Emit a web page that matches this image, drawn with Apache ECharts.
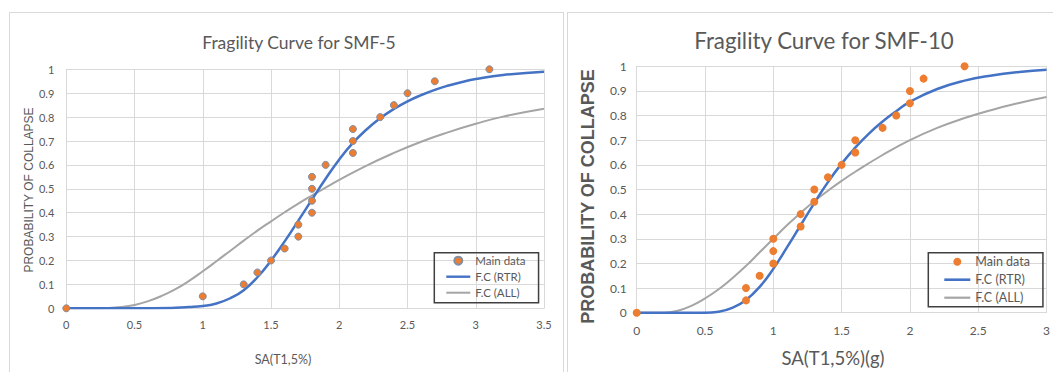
<!DOCTYPE html>
<html><head><meta charset="utf-8">
<script src="https://cdn.jsdelivr.net/npm/echarts@6/dist/echarts.min.js"></script>
<style>
html,body{margin:0;padding:0;background:#fff;width:1053px;height:372px;overflow:hidden;position:relative}
.panel{position:absolute;border:1px solid #d9d9d9;box-sizing:border-box;background:#fff}
#p1{left:9px;top:12px;width:555px;height:380px}
#p2{left:567px;top:12px;width:500px;height:380px}
#c1{position:absolute;left:0;top:0;width:565px;height:372px}
#c2{position:absolute;left:565px;top:0;width:488px;height:372px}
</style></head><body>
<div class="panel" id="p1"></div><div class="panel" id="p2"></div>
<div id="c1"></div><div id="c2"></div>
<script>
// ---------- SMF-5 ----------
const smf5DataX = [0, 1.0, 1.3, 1.4, 1.5, 1.6, 1.7, 1.7, 1.8, 1.8, 1.8, 1.8, 1.9, 2.1, 2.1, 2.1, 2.3, 2.4, 2.5, 2.7, 3.1];
const smf5DataY = [0, 0.05, 0.10, 0.15, 0.20, 0.25, 0.30, 0.35, 0.40, 0.45, 0.50, 0.55, 0.60, 0.65, 0.70, 0.75, 0.80, 0.85, 0.90, 0.95, 1.0];
const smf5RtrX = [0, 0.5, 0.8, 0.9, 1.0, 1.1, 1.2, 1.3, 1.4, 1.5, 1.6, 1.7, 1.8, 1.9, 2.0, 2.1, 2.2, 2.3, 2.4, 2.5, 2.6, 2.7, 2.8, 2.9, 3.0, 3.2, 3.5];
const smf5RtrY = [0, 0, 0.002, 0.005, 0.01, 0.02, 0.042, 0.076, 0.13, 0.2, 0.28, 0.367, 0.455, 0.542, 0.623, 0.692, 0.748, 0.795, 0.834, 0.866, 0.892, 0.914, 0.932, 0.947, 0.959, 0.976, 0.99];
const smf5AllX = [0, 0.2, 0.3, 0.4, 0.5, 0.6, 0.7, 0.8, 0.9, 1.0, 1.1, 1.2, 1.3, 1.4, 1.5, 1.6, 1.7, 1.8, 1.9, 2.0, 2.2, 2.4, 2.6, 2.8, 3.0, 3.2, 3.5];
const smf5AllY = [0, 0, 0.001, 0.005, 0.014, 0.03, 0.052, 0.08, 0.115, 0.155, 0.197, 0.24, 0.283, 0.325, 0.364, 0.402, 0.438, 0.472, 0.505, 0.537, 0.597, 0.65, 0.697, 0.737, 0.772, 0.802, 0.835];

// ---------- SMF-10 ----------
const smf10DataX = [0, 0.8, 0.8, 0.9, 1.0, 1.0, 1.0, 1.2, 1.2, 1.3, 1.3, 1.4, 1.5, 1.6, 1.6, 1.8, 1.9, 2.0, 2.0, 2.1, 2.4];
const smf10DataY = [0, 0.05, 0.10, 0.15, 0.20, 0.25, 0.30, 0.35, 0.40, 0.45, 0.50, 0.55, 0.60, 0.65, 0.70, 0.75, 0.80, 0.85, 0.90, 0.95, 1.0];
const smf10RtrX = [0, 0.5, 0.6, 0.7, 0.8, 0.9, 1.0, 1.1, 1.2, 1.3, 1.4, 1.5, 1.6, 1.7, 1.8, 1.9, 2.0, 2.2, 2.4, 2.6, 2.8, 3.0];
const smf10RtrY = [0, 0, 0.004, 0.02, 0.052, 0.105, 0.178, 0.265, 0.355, 0.445, 0.53, 0.605, 0.67, 0.727, 0.776, 0.818, 0.856, 0.908, 0.942, 0.963, 0.977, 0.986];
const smf10AllX = [0, 0.2, 0.3, 0.4, 0.5, 0.6, 0.7, 0.8, 0.9, 1.0, 1.1, 1.2, 1.3, 1.4, 1.5, 1.6, 1.8, 2.0, 2.2, 2.4, 2.6, 2.8, 3.0];
const smf10AllY = [0, 0, 0.008, 0.028, 0.058, 0.095, 0.14, 0.19, 0.245, 0.3, 0.355, 0.405, 0.452, 0.495, 0.535, 0.572, 0.64, 0.70, 0.75, 0.79, 0.823, 0.851, 0.875];

const legendNames = ['Main data', 'F.C (RTR)', 'F.C (ALL)'];
const titles = ['Fragility Curve for SMF-5', 'Fragility Curve for SMF-10'];
const xNames = ['SA(T1,5%)', 'SA(T1,5%)(g)'];
const yName = 'PROBABILITY OF COLLAPSE';

const zip = (xs, ys) => xs.map((x, i) => [x, ys[i]]);
const CAL = "Lato, 'Open Sans', sans-serif";
const SANS = "'Liberation Sans', Arial, sans-serif";
const TXT = '#595959';
const GRID = '#d9d9d9';

function txt(text, x, y, font, rot) {
  return {
    type: 'text', x: x, y: y, rotation: rot || 0, silent: true,
    style: { text: text, fill: TXT, font: font, align: 'center', verticalAlign: 'middle', textAlign: 'center', textVerticalAlign: 'middle' }
  };
}

function build(cfg) {
  return {
    animation: false,
    graphic: [
      txt(cfg.title, cfg.titleX, cfg.titleY, cfg.titleFont),
      txt(cfg.xName, cfg.xNameX, cfg.xNameY, cfg.xNameFont),
      txt(yName, cfg.yNameX, cfg.yNameY, cfg.yNameFont, Math.PI / 2)
    ],
    grid: { left: cfg.gridLeft, top: cfg.gridTop, width: cfg.gridW, height: cfg.gridH },
    legend: {
      orient: 'vertical', left: cfg.legLeft, top: cfg.legTop,
      padding: cfg.legPad, itemWidth: cfg.legItemW, itemHeight: 8, itemGap: 0,
      borderColor: '#404040', borderWidth: 1.5,
      textStyle: { fontFamily: CAL, fontSize: cfg.legFont, color: TXT, lineHeight: cfg.legLine },
      data: [
        { name: legendNames[0], icon: 'circle' },
        { name: legendNames[1], icon: 'path://M0,0H26V2.6H0Z' },
        { name: legendNames[2], icon: 'path://M0,0H26V2.2H0Z' }
      ]
    },
    xAxis: {
      type: 'value', min: 0, max: cfg.xMax, interval: 0.5,
      axisLine: { show: true, lineStyle: { color: GRID } }, axisTick: { show: false },
      axisLabel: { color: TXT, fontFamily: CAL, fontSize: cfg.tickSize, margin: cfg.xLabMargin },
      splitLine: { show: true, lineStyle: { color: GRID } }
    },
    yAxis: {
      type: 'value', min: 0, max: 1, interval: 0.1,
      axisLine: { show: true, lineStyle: { color: GRID } }, axisTick: { show: false },
      axisLabel: { color: TXT, fontFamily: CAL, fontSize: cfg.tickSize, margin: cfg.yLabMargin },
      splitLine: { show: true, lineStyle: { color: GRID } }
    },
    series: [
      { name: legendNames[2], type: 'line', data: zip(cfg.allX, cfg.allY), showSymbol: false, symbol: 'none',
        smooth: 0.5, lineStyle: { color: '#a5a5a5', width: 2 }, itemStyle: { color: '#a5a5a5' }, z: 2 },
      { name: legendNames[1], type: 'line', data: zip(cfg.rtrX, cfg.rtrY), showSymbol: false, symbol: 'none',
        smooth: 0.5, lineStyle: { color: '#4472c4', width: 2.5 }, itemStyle: { color: '#4472c4' }, z: 3 },
      { name: legendNames[0], type: 'scatter', data: zip(cfg.dataX, cfg.dataY), symbolSize: cfg.dotSize,
        itemStyle: { color: '#ed7d31', borderColor: cfg.dotBorder, borderWidth: cfg.dotBorderW, opacity: 1 }, z: 4 }
    ]
  };
}

const c1 = echarts.init(document.getElementById('c1'), null, { renderer: 'svg' });
c1.setOption(build({
  title: titles[0], titleX: 299, titleY: 42, titleFont: '17.5px ' + CAL,
  xName: xNames[0], xNameX: 283, xNameY: 359, xNameFont: '12.5px ' + CAL,
  yNameX: 29, yNameY: 190, yNameFont: '12px ' + SANS,
  gridLeft: 66.3, gridTop: 69.3, gridW: 477.7, gridH: 239,
  legLeft: 434.3, legTop: 252.7, legPad: [0, 13, 2, 12], legItemW: 24, legFont: 11.5, legLine: 16,
  xMax: 3.5, tickSize: 11, xLabMargin: 11, yLabMargin: 12,
  dataX: smf5DataX, dataY: smf5DataY, rtrX: smf5RtrX, rtrY: smf5RtrY, allX: smf5AllX, allY: smf5AllY,
  dotSize: 7, dotBorder: '#7f8fa6', dotBorderW: 1
}));

const c2 = echarts.init(document.getElementById('c2'), null, { renderer: 'svg' });
c2.setOption(build({
  title: titles[1], titleX: 259, titleY: 40, titleFont: '22.3px ' + CAL,
  xName: xNames[1], xNameX: 268, xNameY: 358, xNameFont: '18.5px ' + CAL,
  yNameX: 23, yNameY: 196.5, yNameFont: 'bold 18px ' + SANS,
  gridLeft: 71.7, gridTop: 66.3, gridW: 411, gridH: 246.4,
  legLeft: 363.3, legTop: 252.7, legPad: [0, 13, 0, 16], legItemW: 26, legFont: 12.5, legLine: 18,
  xMax: 3, tickSize: 12, xLabMargin: 12, yLabMargin: 10,
  dataX: smf10DataX, dataY: smf10DataY, rtrX: smf10RtrX, rtrY: smf10RtrY, allX: smf10AllX, allY: smf10AllY,
  dotSize: 8, dotBorder: '#ed7d31', dotBorderW: 0
}));
</script>
</body></html>
